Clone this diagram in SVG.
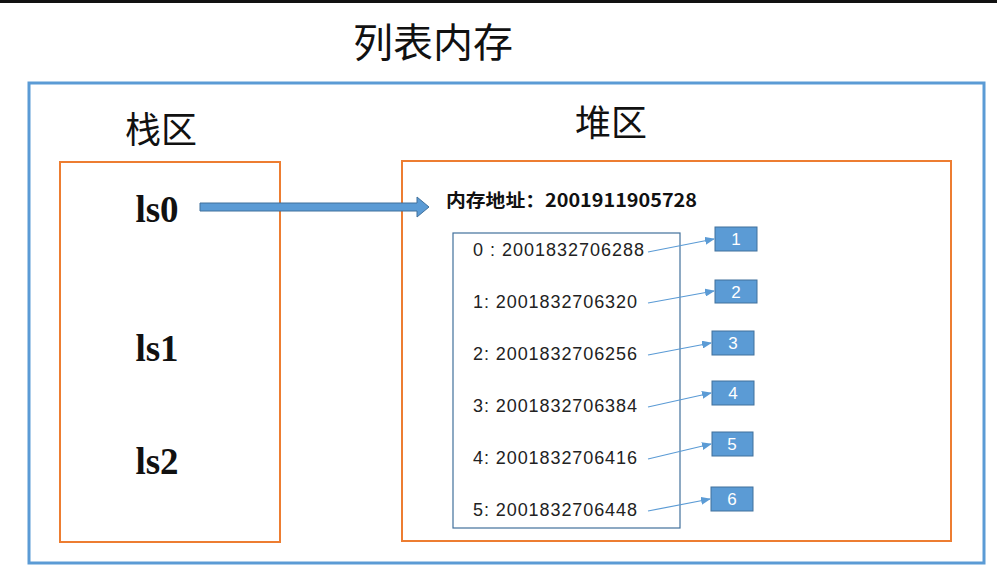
<svg xmlns="http://www.w3.org/2000/svg" width="997" height="582" viewBox="0 0 997 582">
<defs>
<style>
.cn{font-family:"Noto Sans CJK SC","Liberation Sans",sans-serif;fill:#111}
.ls{font-family:"Liberation Serif",serif;font-weight:bold;font-size:37px;fill:#111}
.it{font-family:"Liberation Sans",sans-serif;font-size:18px;fill:#222}
.bx{fill:#5b9bd5;stroke:#41719c;stroke-width:1}
.bt{font-family:"Liberation Sans",sans-serif;font-size:17px;fill:#fff;text-anchor:middle}
.ln{stroke:#5b9bd5;stroke-width:1.2;fill:none;marker-end:url(#a)}
</style>
<marker id="a" markerWidth="10" markerHeight="8" refX="9" refY="4" orient="auto" markerUnits="userSpaceOnUse"><path d="M0,0 L10,4 L0,8z" fill="#5b9bd5"/></marker>
</defs>
<rect width="997" height="582" fill="#fff"/>
<rect x="0" y="0" width="997" height="3" fill="#111"/>
<text class="cn" x="433" y="57" font-size="40" text-anchor="middle">列表内存</text>
<rect x="29" y="83" width="955" height="480" fill="none" stroke="#5b9bd5" stroke-width="3"/>
<text class="cn" x="161" y="143" font-size="36" text-anchor="middle">栈区</text>
<text class="cn" x="611" y="136" font-size="36" text-anchor="middle">堆区</text>
<g id="stack"><rect x="60" y="162" width="220" height="380" fill="none" stroke="#ed7d31" stroke-width="2"/>
<text class="ls" x="157" y="222" text-anchor="middle">ls0</text>
<text class="ls" x="157" y="361" text-anchor="middle">ls1</text>
<text class="ls" x="157" y="474" text-anchor="middle">ls2</text></g>
<g id="heap"><rect x="402" y="161" width="549" height="380" fill="none" stroke="#ed7d31" stroke-width="2"/>
<text class="cn" x="446" y="207" font-size="18" font-weight="bold" textLength="251" lengthAdjust="spacingAndGlyphs">内存地址：2001911905728</text></g>
<g id="list"><rect x="453" y="233" width="227" height="295" fill="none" stroke="#41719c" stroke-width="1.2"/>
<text class="it" x="473" y="256" textLength="171">0 : 2001832706288</text>
<text class="it" x="473" y="308" textLength="164">1: 2001832706320</text>
<text class="it" x="473" y="360" textLength="164">2: 2001832706256</text>
<text class="it" x="473" y="412" textLength="164">3: 2001832706384</text>
<text class="it" x="473" y="464" textLength="164">4: 2001832706416</text>
<text class="it" x="473" y="516" textLength="164">5: 2001832706448</text></g>
<g id="n1"><rect class="bx" x="715" y="227" width="42" height="24"/><text class="bt" x="736" y="245">1</text></g>
<g id="n2"><rect class="bx" x="715" y="280" width="42" height="23"/><text class="bt" x="736" y="298">2</text></g>
<g id="n3"><rect class="bx" x="712" y="331" width="42" height="24"/><text class="bt" x="733" y="349">3</text></g>
<g id="n4"><rect class="bx" x="712" y="381" width="42" height="24"/><text class="bt" x="733" y="399">4</text></g>
<g id="n5"><rect class="bx" x="712" y="432" width="41" height="24"/><text class="bt" x="732" y="450">5</text></g>
<g id="n6"><rect class="bx" x="711" y="487" width="42" height="24"/><text class="bt" x="732" y="505">6</text></g>
<g id="connectors">
<path d="M200,203 H417 V197 L429,207 L417,217 V211 H200 Z" fill="#5b9bd5" stroke="#41719c" stroke-width="1"/>
<path class="ln" d="M648,252 L714,239"/>
<path class="ln" d="M648,303 L714,291"/>
<path class="ln" d="M648,355 L711,343"/>
<path class="ln" d="M648,407 L711,393"/>
<path class="ln" d="M648,459 L711,444"/>
<path class="ln" d="M648,511 L710,499"/>
</g>
</svg>
